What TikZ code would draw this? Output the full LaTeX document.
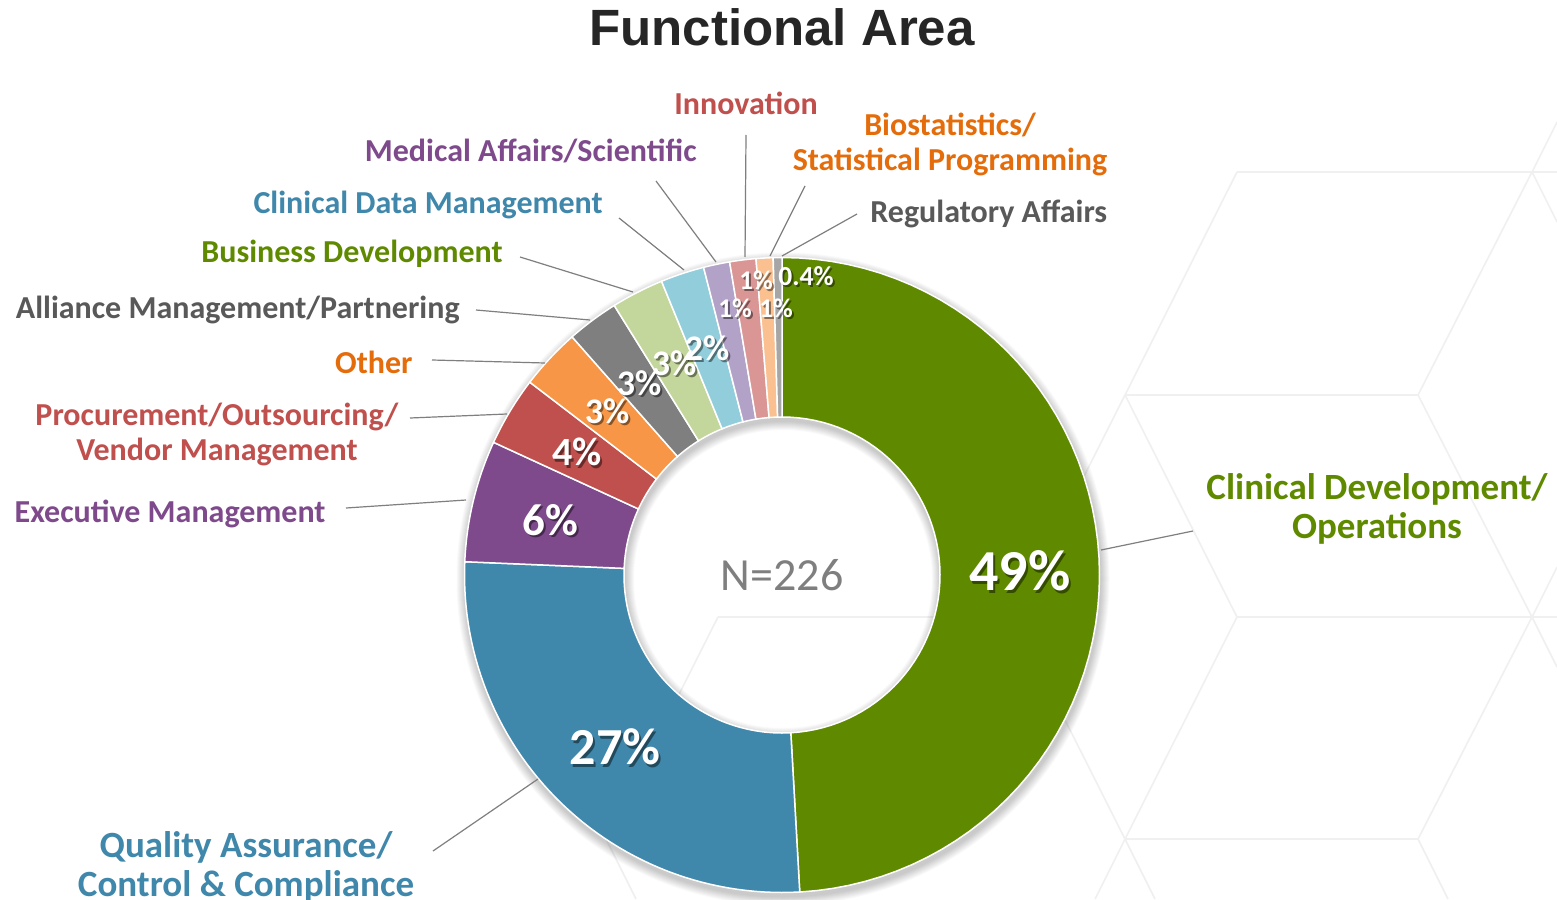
\documentclass[tikz,border=0pt]{standalone}
\usepackage{fontspec}
\setmainfont{Carlito}
\newfontfamily\titlefont{Liberation Sans}
\usetikzlibrary{calc}
\definecolor{sGreen}{HTML}{5F8A00}
\definecolor{sBlue}{HTML}{3F87AB}
\definecolor{sPurple}{HTML}{7E4A8C}
\definecolor{sRed}{HTML}{C0504D}
\definecolor{sOrange}{HTML}{F79646}
\definecolor{sGray}{HTML}{7F7F7F}
\definecolor{sLGreen}{HTML}{C3D69B}
\definecolor{sLBlue}{HTML}{92CDDC}
\definecolor{sLPurple}{HTML}{B3A2C7}
\definecolor{sLRed}{HTML}{D99694}
\definecolor{sLOrange}{HTML}{FAC090}
\definecolor{sLGray}{HTML}{A6A6A6}
\definecolor{tGreen}{HTML}{5F8A00}
\definecolor{tBlue}{HTML}{3F87AB}
\definecolor{tPurple}{HTML}{7E4A8C}
\definecolor{tRed}{HTML}{C0504D}
\definecolor{tOrange}{HTML}{E46C0A}
\definecolor{tGray}{HTML}{595959}
\definecolor{tTitle}{HTML}{262626}
\definecolor{tN}{HTML}{7F7F7F}
\definecolor{hexc}{HTML}{F0F0F0}
\definecolor{leadc}{HTML}{7F7F7F}

\newcommand\ringslice[3]{%
  \fill[#3, draw=white, line width=0.75pt]
    plot[domain=#1:#2, samples=60] ({782+317.5*sin(\x)},{575-317.5*cos(\x)})
    -- plot[domain=#2:#1, samples=60] ({782+158*sin(\x)},{575-158*cos(\x)}) -- cycle;}
\newcommand\pctlabel[4]{%
  \node[pctshadow, font=\bfseries\fontsize{#3}{#3}\selectfont] at ($(#2)+(2,2.5)$) {#4};
  \node[pcttext, font=\bfseries\fontsize{#3}{#3}\selectfont] (#1) at (#2) {#4};}

\begin{document}
\begin{tikzpicture}[x=0.5pt,y=-0.5pt,
  lab/.style={font=\bfseries\fontsize{16pt}{17.5pt}\selectfont, inner sep=0pt, anchor=base},
  biglab/.style={font=\bfseries\fontsize{18.5pt}{19.5pt}\selectfont, inner sep=0pt, anchor=base, align=center},
  leader/.style={draw=leadc, line width=0.6pt},
  hexline/.style={draw=hexc, line width=0.8pt},
  pcttext/.style={text=white, inner sep=0pt},
  pctshadow/.style={text=black, opacity=0.45, inner sep=0pt}]
\useasboundingbox (0,0) rectangle (1557,899);
\fill[white] (0,0) rectangle (1557,899);

% faint hexagonal background
\foreach \ax/\ay/\bx/\by in {
  1237/172/1557/172, 1237/172/1125/395, 1532/172/1557/122, 1532/172/1557/222,
  1125/395/1418/395, 1418/395/1532/172, 1418/395/1532/617, 1125/395/1237/617,
  1125/395/1013/617, 1237/617/1557/617, 1237/617/1125/839, 1532/617/1557/567,
  1532/617/1557/667, 1532/617/1418/839, 1125/839/1418/839, 1418/839/1448/899,
  1125/839/1095/899, 1125/839/1155/899, 1125/839/1013/617, 718/617/1013/617,
  718/617/606/839, 606/839/636/899}
  \draw[hexline] (\ax,\ay) -- (\bx,\by);

% soft shadow of the ring
\foreach \k in {1,...,9}
  \fill[black, opacity=0.022, even odd rule]
    (783,579) circle[radius=317.5+\k] (783,579) circle[radius=158-\k];

% ring slices (clockwise from the top)
\ringslice{0}{176.8}{sGreen}
\ringslice{176.8}{272.4}{sBlue}
\ringslice{272.4}{294.7}{sPurple}
\ringslice{294.7}{307.4}{sRed}
\ringslice{307.4}{318.6}{sOrange}
\ringslice{318.6}{328.1}{sGray}
\ringslice{328.1}{337.7}{sLGreen}
\ringslice{337.7}{345.7}{sLBlue}
\ringslice{345.7}{350.5}{sLPurple}
\ringslice{350.5}{355.3}{sLRed}
\ringslice{355.3}{358.4}{sLOrange}
\ringslice{358.4}{360}{sLGray}

% title and centre
\node[font=\titlefont\bfseries\fontsize{25.5pt}{26pt}\selectfont, text=tTitle, inner sep=0pt, anchor=base] (title) at (782,46) {Functional Area};
\node[font=\fontsize{23pt}{23pt}\selectfont, text=tN, inner sep=0pt] (ncount) at (782,575) {N=226};

% percentages
\pctlabel{p49}{1020,571}{29pt}{49\%}
\pctlabel{p27}{615,747}{26pt}{27\%}
\pctlabel{p6}{550,520}{22.5pt}{6\%}
\pctlabel{p4}{577,452}{20pt}{4\%}
\pctlabel{p3a}{607,411}{18pt}{3\%}
\pctlabel{p3b}{639,383}{18pt}{3\%}
\pctlabel{p3c}{674,363}{18pt}{3\%}
\pctlabel{p2}{707,348}{18pt}{2\%}
\pctlabel{p1a}{735,308}{13.5pt}{1\%}
\pctlabel{p1b}{756,280}{13.5pt}{1\%}
\pctlabel{p1c}{776,308}{13.5pt}{1\%}
\pctlabel{p04}{806,276}{13.75pt}{0.4\%}

% category labels (multi-line labels: base = last line)
\node[biglab, text=tGreen] (lcd) at (1377,538) {Clinical Development/\\Operations};
\node[biglab, text=tBlue] (lqa) at (246,896) {Quality Assurance/\\Control \& Compliance};
\node[lab, anchor=base east, text=tPurple] (lex) at (326,522) {Executive Management};
\node[lab, align=center, text=tRed] (lpr) at (217,460) {Procurement/Outsourcing/\\Vendor Management};
\node[lab, anchor=base east, text=tOrange] (lot) at (413,373) {Other};
\node[lab, anchor=base east, text=tGray] (lal) at (460,318) {Alliance Management/Partnering};
\node[lab, anchor=base east, text=tGreen] (lbd) at (503,262) {Business Development};
\node[lab, anchor=base east, text=tBlue] (lcdm) at (603,213) {Clinical Data Management};
\node[lab, anchor=base east, text=tPurple] (lmed) at (697,162) {Medical Affairs/Scientific};
\node[lab, text=tRed] (lin) at (746,115) {Innovation};
\node[lab, align=center, text=tOrange] (lbio) at (950,170) {Biostatistics/\\Statistical Programming};
\node[lab, anchor=base west, text=tGray] (lreg) at (870,222) {Regulatory Affairs};

% leader lines
\coordinate (cd-a) at (1193,531);  \coordinate (cd-b) at (1101,550);
\coordinate (qa-a) at (433,851);   \coordinate (qa-b) at (538,779);
\coordinate (ex-a) at (346,508);   \coordinate (ex-b) at (466,500);
\coordinate (pr-a) at (410,418);   \coordinate (pr-b) at (507,414);
\coordinate (ot-a) at (432,360);   \coordinate (ot-b) at (545,363);
\coordinate (al-a) at (476,310);   \coordinate (al-b) at (590,320);
\coordinate (bd-a) at (520,257);   \coordinate (bd-b) at (633,292);
\coordinate (cdm-a) at (619,218);  \coordinate (cdm-b) at (684,270);
\coordinate (med-a) at (656,181);  \coordinate (med-b) at (716,262);
\coordinate (in-a) at (746,135);   \coordinate (in-b) at (745,257);
\coordinate (bio-a) at (805,186);  \coordinate (bio-b) at (770,256);
\coordinate (reg-a) at (857,214);  \coordinate (reg-b) at (782,256);
\foreach \n in {cd,qa,ex,pr,ot,al,bd,cdm,med,in,bio,reg}
  \draw[leader] (\n-a) -- (\n-b);
\end{tikzpicture}
\end{document}
